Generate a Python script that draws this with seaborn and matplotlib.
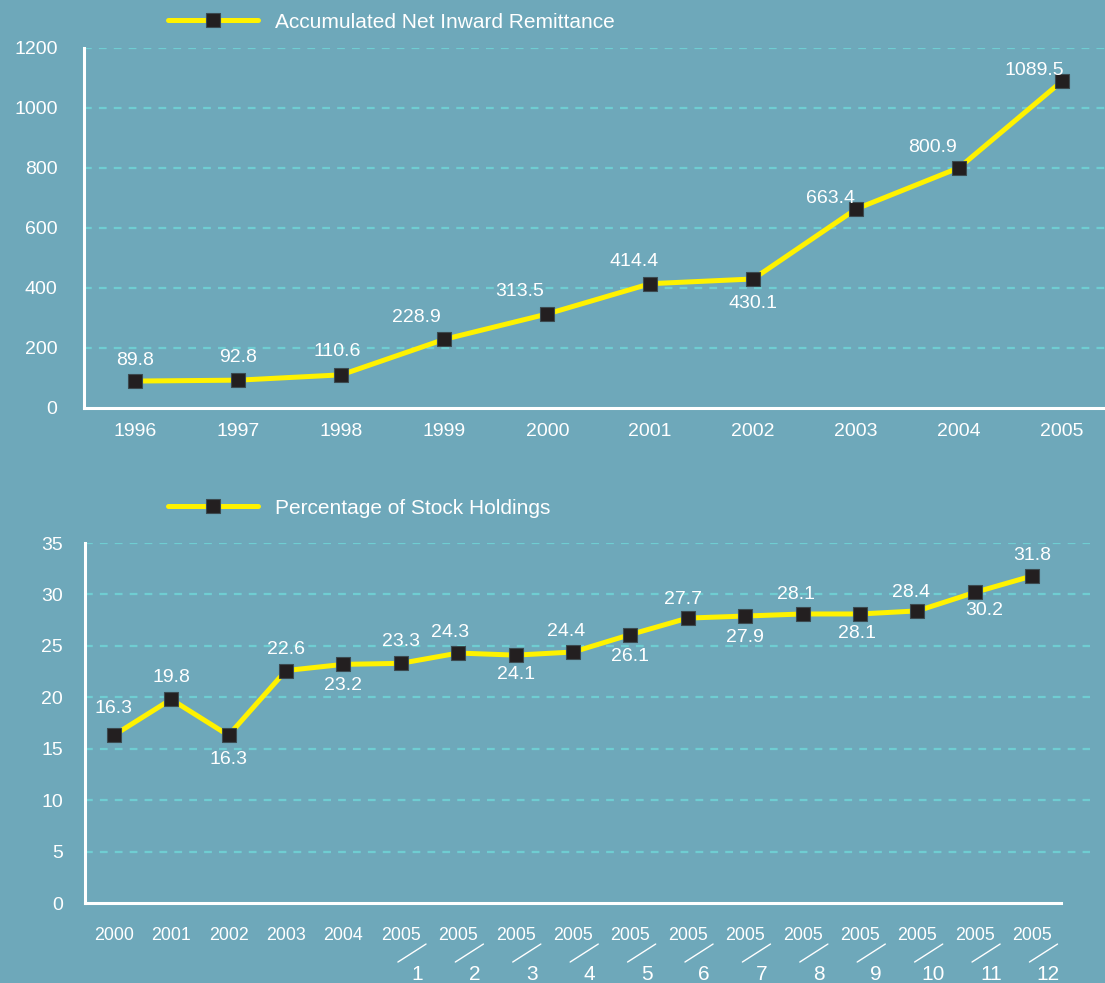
import numpy as np
import pandas as pd
import matplotlib
matplotlib.use("Agg")
import matplotlib.pyplot as plt
import seaborn as sns

# data
remit_years = ["1996", "1997", "1998", "1999", "2000",
               "2001", "2002", "2003", "2004", "2005"]
remit_values = [89.8, 92.8, 110.6, 228.9, 313.5, 414.4, 430.1, 663.4, 800.9, 1089.5]

stock_years = ["2000", "2001", "2002", "2003", "2004"] + ["2005"] * 12
stock_months = [""] * 5 + [str(m) for m in range(1, 13)]
stock_values = [16.3, 19.8, 16.3, 22.6, 23.2, 23.3, 24.3, 24.1, 24.4,
                26.1, 27.7, 27.9, 28.1, 28.1, 28.4, 30.2, 31.8]

# label offsets in pixels (dx, dy)
remit_offsets = [(0, 21), (0, 23), (-4, 23), (-28, 22), (-28, 22), (-16, 22),
                 (0, -25), (-26, 10), (-27, 20), (-28, 11)]
stock_offsets = [(0, 27), (0, 22), (0, -24), (0, 21), (0, -21), (0, 22), (-8, 21),
                 (0, -19), (-7, 21), (0, -22), (-5, 19), (0, -21), (-7, 19),
                 (-3, -20), (-6, 18), (9, -18), (0, 20)]

BG = "#6ea8ba"
GRID = "#6fcdd2"
YELLOW = "#fff200"
MARK = "#231f20"

sns.set_style("white")
plt.rcParams["font.family"] = ["Liberation Sans", "DejaVu Sans"]

fig = plt.figure(figsize=(11.05, 9.83), dpi=100)
fig.patch.set_facecolor(BG)
W, H = 1105, 983


def style_axes(ax, n, ymax, ystep, xmax, tick_fs, pad_x, pad_y):
    ax.set_facecolor(BG)
    ax.set_xlim(-0.5, xmax)
    ax.set_ylim(0, ymax)
    ax.set_yticks(np.arange(0, ymax + 1, ystep))
    for y in np.arange(ystep, ymax + 1, ystep):
        ax.axhline(y, color=GRID, lw=1.6, ls=(0, (3.5, 3.2)), zorder=0)
    for s in ["top", "right"]:
        ax.spines[s].set_visible(False)
    for s in ["left", "bottom"]:
        ax.spines[s].set_color("white")
        ax.spines[s].set_linewidth(2.2)
    ax.spines["bottom"].set_bounds(-0.5, n - 0.5)
    ax.set_xticks(np.arange(0.5, n - 0.4, 1.0), minor=True)
    ax.tick_params(axis="x", which="minor", direction="in", length=7,
                   width=1.8, color="white")
    ax.tick_params(axis="x", which="major", length=0, pad=pad_x,
                   labelsize=tick_fs, labelcolor="white")
    ax.tick_params(axis="y", length=0, pad=pad_y, labelsize=14,
                   labelcolor="white")
    ax.set_xlabel("")
    ax.set_ylabel("")


def draw_series(ax, values, label, offsets, fs):
    df = pd.DataFrame({"pos": np.arange(len(values)), "val": values})
    sns.lineplot(data=df, x="pos", y="val", ax=ax, color=YELLOW, lw=3.6,
                 marker="s", markersize=10, markerfacecolor=MARK,
                 markeredgecolor="#3b4a50", markeredgewidth=0.8,
                 solid_capstyle="round", label=label, zorder=3)
    for i, v in enumerate(values):
        dx, dy = offsets[i]
        ax.annotate(f"{v:.1f}", (i, v), xytext=(dx * 0.72, dy * 0.72),
                    textcoords="offset points", ha="center", va="center",
                    color="white", fontsize=fs, zorder=4)


def place_legend(ax, ypix, xpix=168):
    leg = ax.legend(loc="center left", bbox_to_anchor=(xpix / W, 1 - ypix / H),
                    bbox_transform=fig.transFigure, frameon=False, fontsize=15,
                    labelcolor="white", handlelength=4.3, handletextpad=0.85,
                    borderpad=0, borderaxespad=0)
    for h in leg.get_lines():
        h.set_solid_capstyle("round")


# top chart
ax1 = fig.add_axes([84 / W, (H - 408) / H, (1113.5 - 84) / W, 360 / H])
draw_series(ax1, remit_values, "Accumulated Net Inward Remittance",
            remit_offsets, 14)
style_axes(ax1, len(remit_values), 1200, 200, 9.5, 14, 11, 19)
ax1.set_xticks(np.arange(len(remit_years)))
ax1.set_xticklabels(remit_years)
place_legend(ax1, 22)

# bottom chart
ax2 = fig.add_axes([85 / W, (H - 903) / H, (1061 - 85) / W * 17.5 / 17, 360 / H])
draw_series(ax2, stock_values, "Percentage of Stock Holdings",
            stock_offsets, 14)
style_axes(ax2, len(stock_values), 35, 5, 17.0, 12.8, 17, 16)
ax2.set_xticks(np.arange(len(stock_years)))
ax2.set_xticklabels(stock_years)
place_legend(ax2, 508)

xt = ax2.get_xaxis_transform()
for i, m in enumerate(stock_months):
    if not m:
        continue
    ax2.plot([i - 0.05, i + 0.44], [-0.164, -0.114], transform=xt,
             color="white", lw=1, clip_on=False)
    ax2.text(i + 0.28, -0.2, m, transform=xt, ha="center", va="center",
             color="white", fontsize=15, clip_on=False)

fig.savefig("out.png", dpi=100, facecolor=BG)
